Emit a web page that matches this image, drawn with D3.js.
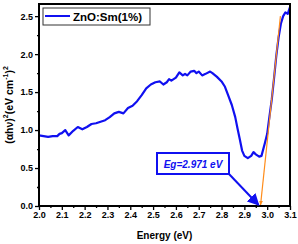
<!DOCTYPE html>
<html><head><meta charset="utf-8">
<script src="https://cdn.jsdelivr.net/npm/d3@7"></script>
<style>body{margin:0;background:#fff}svg{display:block}</style>
</head><body>
<svg id="c" width="298" height="244"></svg>
<script>
const energy = [2.00,2.02,2.04,2.06,2.08,2.09,2.10,2.115,2.13,2.15,2.17,2.19,2.21,2.23,2.25,2.27,2.29,2.31,2.33,2.35,2.37,2.39,2.41,2.43,2.45,2.47,2.49,2.51,2.53,2.545,2.56,2.57,2.58,2.60,2.615,2.63,2.64,2.65,2.665,2.68,2.69,2.70,2.715,2.73,2.75,2.76,2.78,2.80,2.815,2.83,2.845,2.86,2.87,2.88,2.89,2.90,2.915,2.93,2.94,2.95,2.965,2.975,2.99,3.00,3.01,3.02,3.03,3.04,3.05,3.06,3.07,3.08,3.09,3.10];
const absorb = [0.93,0.92,0.91,0.92,0.92,0.95,0.96,1.00,0.93,0.99,1.04,1.01,1.04,1.08,1.09,1.11,1.13,1.17,1.22,1.24,1.22,1.29,1.32,1.38,1.46,1.55,1.60,1.63,1.64,1.60,1.63,1.67,1.65,1.69,1.76,1.72,1.74,1.72,1.77,1.78,1.75,1.77,1.72,1.74,1.77,1.75,1.70,1.64,1.57,1.45,1.33,1.17,1.02,0.88,0.73,0.66,0.63,0.66,0.71,0.68,0.65,0.66,0.83,0.95,1.18,1.40,1.68,1.98,2.22,2.40,2.50,2.55,2.53,2.62];
const fitX = [2.971, 3.058];
const fitY = [0, 2.50];
const xTicks = [2.0,2.1,2.2,2.3,2.4,2.5,2.6,2.7,2.8,2.9,3.0,3.1];
const yTicks = [0.0,0.5,1.0,1.5,2.0,2.5];
const seriesName = "ZnO:Sm(1%)";
const egLabel = "Eg=2.971 eV";
const eg = 2.971;

const W=298,H=244,m={l:39,r:8,t:4,b:38};
const svg=d3.select("#c");
const x=d3.scaleLinear().domain([2.0,3.1]).range([m.l,W-m.r]);
const y=d3.scaleLinear().domain([0,2.66]).range([H-m.b,m.t]);
const F="Arial, 'Liberation Sans', sans-serif";
const blue="#1010f0", orange="#ff8c1a";

const defs=svg.append("defs");
defs.append("marker").attr("id","ah").attr("viewBox","0 0 10 10").attr("refX",9).attr("refY",5)
 .attr("markerWidth",6).attr("markerHeight",6).attr("orient","auto")
 .append("path").attr("d","M0,0L10,5L0,10z").attr("fill",blue);
defs.append("marker").attr("id","ao").attr("viewBox","0 0 10 10").attr("refX",9).attr("refY",5)
 .attr("markerWidth",4).attr("markerHeight",4).attr("orient","auto")
 .append("path").attr("d","M0,1L10,5L0,9z").attr("fill",orange);

// curve
const pts=energy.map((e,i)=>[e,absorb[i]]);
svg.append("path").datum(pts).attr("fill","none").attr("stroke",blue).attr("stroke-width",2.2)
 .attr("stroke-linejoin","round")
 .attr("d",d3.line().x(d=>x(d[0])).y(d=>y(d[1])));

// fit line
svg.append("line").attr("x1",x(fitX[1])).attr("y1",y(fitY[1])).attr("x2",x(fitX[0])).attr("y2",y(fitY[0])-1)
 .attr("stroke",orange).attr("stroke-width",1.2).attr("marker-end","url(#ao)");

// axes
const xa=svg.append("g").attr("transform",`translate(0,${H-m.b})`)
 .call(d3.axisBottom(x).tickValues(xTicks).tickFormat(d3.format(".1f")).tickSize(4).tickPadding(2));
const ya=svg.append("g").attr("transform",`translate(${m.l},0)`)
 .call(d3.axisLeft(y).tickValues(yTicks).tickFormat(d3.format(".1f")).tickSize(4).tickPadding(2));
svg.append("g").attr("transform",`translate(0,${H-m.b})`)
 .call(d3.axisBottom(x).tickValues(d3.range(2.05,3.1,0.1)).tickFormat("").tickSize(2))
 .call(g=>g.select(".domain").remove());
svg.append("g").attr("transform",`translate(${m.l},0)`)
 .call(d3.axisLeft(y).tickValues(d3.range(0.25,2.6,0.5)).tickFormat("").tickSize(2))
 .call(g=>g.select(".domain").remove());
[xa,ya].forEach(g=>{g.select(".domain").remove();
 g.selectAll("text").attr("font-family",F).attr("font-weight","bold").attr("font-size",9).attr("fill","#000");});
svg.selectAll("g line").attr("stroke","#000").attr("stroke-width",1.3);
svg.append("rect").attr("x",m.l).attr("y",m.t).attr("width",W-m.l-m.r).attr("height",H-m.t-m.b)
 .attr("fill","none").attr("stroke","#000").attr("stroke-width",2);

// titles
svg.append("text").attr("x",(m.l+W-m.r)/2).attr("y",239).attr("text-anchor","middle")
 .attr("font-family",F).attr("font-weight","bold").attr("font-size",10).text("Energy (eV)");
const yt=svg.append("text").attr("transform",`translate(12.5,${(m.t+H-m.b)/2}) rotate(-90)`)
 .attr("text-anchor","middle").attr("font-family",F).attr("font-weight","bold").attr("font-size",10.5);
yt.append("tspan").text("(αhν)");
yt.append("tspan").attr("font-size",7).attr("dy",-4.5).text("2");
yt.append("tspan").attr("dy",4.5).text("(eV cm");
yt.append("tspan").attr("font-size",7).attr("dy",-4.5).text("-1");
yt.append("tspan").attr("dy",4.5).text(")");
yt.append("tspan").attr("font-size",7).attr("dy",-4.5).text("2");

// legend
svg.append("rect").attr("x",43).attr("y",8).attr("width",107).attr("height",17)
 .attr("fill","#fff").attr("stroke","#333").attr("stroke-width",1);
svg.append("line").attr("x1",45).attr("x2",70).attr("y1",16).attr("y2",16).attr("stroke",blue).attr("stroke-width",2);
svg.append("text").attr("x",73).attr("y",20.5).attr("font-family",F).attr("font-weight","bold")
 .attr("font-size",11.5).text(seriesName);

// Eg annotation
svg.append("rect").attr("x",157).attr("y",153).attr("width",72).attr("height",21)
 .attr("fill","#fff").attr("stroke",blue).attr("stroke-width",2);
svg.append("text").attr("x",193).attr("y",167.5).attr("text-anchor","middle").attr("font-family",F)
 .attr("font-weight","bold").attr("font-style","italic").attr("font-size",10).attr("fill",blue).text(egLabel);
svg.append("line").attr("x1",229).attr("y1",174).attr("x2",x(eg)-2).attr("y2",y(0)-1)
 .attr("stroke",blue).attr("stroke-width",2).attr("marker-end","url(#ah)");
</script>
</body></html>
